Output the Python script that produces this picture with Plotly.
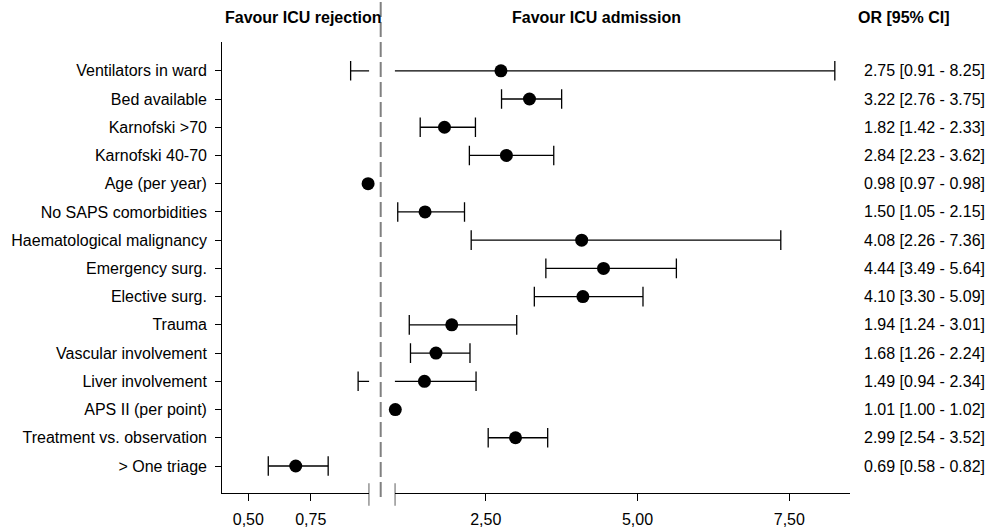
import plotly.graph_objects as go

# ---- data ----
labels = ["Ventilators in ward", "Bed available", "Karnofski >70", "Karnofski 40-70",
          "Age (per year)", "No SAPS comorbidities", "Haematological malignancy",
          "Emergency surg.", "Elective surg.", "Trauma", "Vascular involvement",
          "Liver involvement", "APS II (per point)", "Treatment vs. observation", "> One triage"]
odds = [2.75, 3.22, 1.82, 2.84, 0.98, 1.50, 4.08, 4.44, 4.10, 1.94, 1.68, 1.49, 1.01, 2.99, 0.69]
ci_low = [0.91, 2.76, 1.42, 2.23, 0.97, 1.05, 2.26, 3.49, 3.30, 1.24, 1.26, 0.94, 1.00, 2.54, 0.58]
ci_high = [8.25, 3.75, 2.33, 3.62, 0.98, 2.15, 7.36, 5.64, 5.09, 3.01, 2.24, 2.34, 1.02, 3.52, 0.82]
left_ticks = [0.5, 0.75]
left_ticktext = ["0,50", "0,75"]
right_ticks = [2.5, 5.0, 7.5]
right_ticktext = ["2,50", "5,00", "7,50"]

# ---- layout constants ----
W, H = 992, 531
FONT = "Liberation Sans, Arial, sans-serif"
L_RANGE = [0.3958, 0.9848]
R_RANGE = [1.0, 8.5]
CAP_MIN_GAP = 0.02  # caps hidden under the dot are not drawn
n = len(labels)
ypos = list(range(n, 0, -1))

def px_x(p):
    return p / W

def px_y(p):
    return (H - p) / H

# build segments for each side
segL_x, segL_y, capL_x, capL_y = [], [], [], []
segR_x, segR_y, capR_x, capR_y = [], [], [], []
for y, o, lo, hi in zip(ypos, odds, ci_low, ci_high):
    show_lo = abs(o - lo) > CAP_MIN_GAP
    show_hi = abs(hi - o) > CAP_MIN_GAP
    if lo < L_RANGE[1]:
        segL_x += [lo, min(hi, L_RANGE[1]), None]
        segL_y += [y, y, None]
        if show_lo:
            capL_x.append(lo); capL_y.append(y)
        if hi <= L_RANGE[1] and show_hi:
            capL_x.append(hi); capL_y.append(y)
    if hi > R_RANGE[0]:
        segR_x += [max(lo, R_RANGE[0]), hi, None]
        segR_y += [y, y, None]
        if lo >= R_RANGE[0] and show_lo:
            capR_x.append(lo); capR_y.append(y)
        if show_hi:
            capR_x.append(hi); capR_y.append(y)

ptL_x = [o for o in odds if o < 1]
ptL_y = [y for o, y in zip(odds, ypos) if o < 1]
ptR_x = [o for o in odds if o >= 1]
ptR_y = [y for o, y in zip(odds, ypos) if o >= 1]

fig = go.Figure()
line_style = dict(color="black", width=1.3)
for xa, sx, sy, cx, cy, px_, py_ in [("x", segL_x, segL_y, capL_x, capL_y, ptL_x, ptL_y),
                                      ("x2", segR_x, segR_y, capR_x, capR_y, ptR_x, ptR_y)]:
    fig.add_trace(go.Scatter(x=sx, y=sy, xaxis=xa, yaxis="y", mode="lines",
                             line=line_style, hoverinfo="skip", showlegend=False))
    fig.add_trace(go.Scatter(x=cx, y=cy, xaxis=xa, yaxis="y", mode="markers",
                             marker=dict(symbol="line-ns", size=14,
                                         line=dict(color="black", width=1.3)),
                             hoverinfo="skip", showlegend=False))
    fig.add_trace(go.Scatter(x=px_, y=py_, xaxis=xa, yaxis="y", mode="markers",
                             marker=dict(symbol="circle", size=13, color="black"),
                             cliponaxis=False, showlegend=False))

axis_common = dict(showline=True, linecolor="black", linewidth=1.3, ticks="outside",
                   ticklen=7, tickcolor="black", tickwidth=1.3, showgrid=False,
                   zeroline=False, automargin=False,
                   tickfont=dict(family=FONT, size=16, color="black"))

fig.update_layout(
    width=W, height=H, autosize=False,
    margin=dict(l=0, r=0, t=0, b=0),
    paper_bgcolor="white", plot_bgcolor="white",
    font=dict(family=FONT, size=16, color="black"),
    xaxis=dict(domain=[px_x(222.3), px_x(369.3)], range=L_RANGE, anchor="y",
               tickmode="array", tickvals=left_ticks, ticktext=left_ticktext,
               ticklabelstandoff=4, **axis_common),
    xaxis2=dict(domain=[px_x(394.7), px_x(850)], range=R_RANGE, anchor="y",
                tickmode="array", tickvals=right_ticks, ticktext=right_ticktext,
                ticklabelstandoff=4, **axis_common),
    yaxis=dict(domain=[px_y(493.3), px_y(41.7)], range=[0.033, 16.03], anchor="x",
               tickmode="array", tickvals=ypos, ticktext=labels,
               ticklabelstandoff=5, **{**axis_common, "ticklen": 6}),
)

# dashed reference line and axis-break marks
fig.add_shape(type="line", xref="paper", yref="paper", x0=px_x(380.7), x1=px_x(380.7),
              y0=px_y(497), y1=1.0, line=dict(color="#808080", width=2, dash="15px,5px"))
for xr, xv in [("x", L_RANGE[1]), ("x2", R_RANGE[0])]:
    fig.add_shape(type="line", xref=xr, yref="paper", x0=xv, x1=xv,
                  y0=px_y(505.7), y1=px_y(483.3), line=dict(color="black", width=1.3))

# headers
for txt, cx in [("Favour ICU rejection", 303), ("Favour ICU admission", 596), ("OR [95% CI]", 904)]:
    fig.add_annotation(text=txt, xref="paper", yref="paper", x=px_x(cx), y=px_y(17),
                       xanchor="center", yanchor="middle", showarrow=False,
                       font=dict(family=FONT, size=16, color="black", weight="bold"))

# OR text column
for y, o, lo, hi in zip(ypos, odds, ci_low, ci_high):
    fig.add_annotation(text=f"{o:.2f} [{lo:.2f} - {hi:.2f}]", xref="paper", yref="y",
                       x=px_x(862), y=y, xanchor="left", yanchor="middle", showarrow=False,
                       font=dict(family=FONT, size=16, color="black"))

fig.write_html("out.html", config={"displayModeBar": False},
               post_script="document.body.style.margin='0px';")
